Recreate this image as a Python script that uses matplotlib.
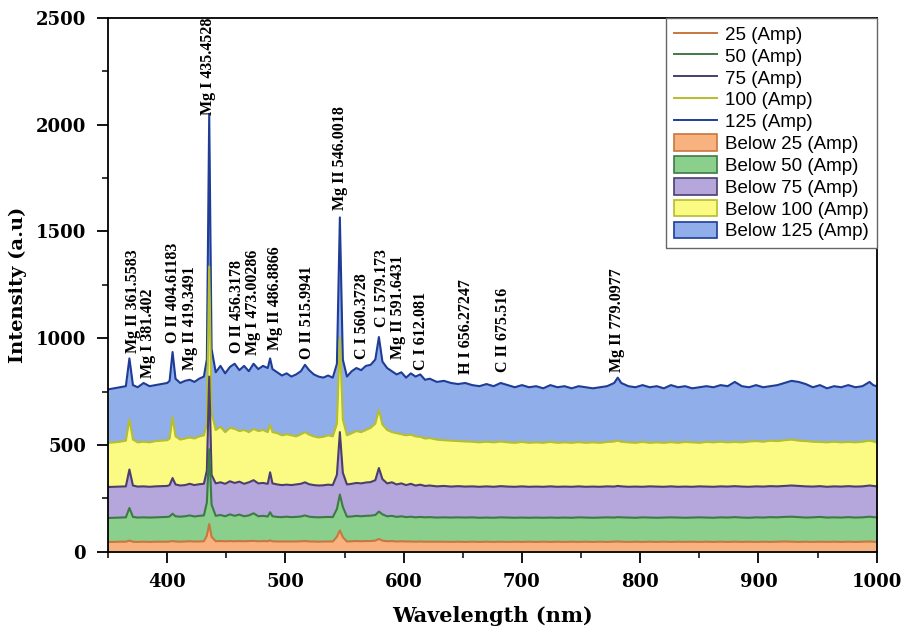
import matplotlib
matplotlib.use("Agg")
import matplotlib.pyplot as plt
from matplotlib.lines import Line2D
from matplotlib.patches import Patch
from matplotlib.ticker import MultipleLocator

# ---------------- data ----------------
wavelength = [
    350, 355, 360, 365, 368, 371, 375, 380, 385, 390,
    395, 400, 402, 404.5, 407, 411, 415, 419, 423, 427,
    431, 433.5, 435.5, 437.5, 441, 445, 449, 453, 457, 461,
    465, 469, 473, 477, 481, 485, 487, 489, 493, 497,
    501, 505, 509, 513, 516.5, 520, 524, 528, 532, 536,
    540, 543.5, 546, 548.5, 552, 556, 560, 564, 568, 572,
    576, 579, 582, 586, 590, 594, 598, 602, 606, 610,
    614, 618, 622, 628, 634, 640, 646, 652, 658, 664,
    670, 676, 682, 688, 694, 700, 706, 712, 718, 724,
    730, 736, 742, 748, 754, 760, 766, 772, 778, 781,
    784, 790, 796, 802, 808, 814, 820, 826, 832, 838,
    844, 850, 856, 862, 868, 874, 880, 886, 892, 898,
    904, 910, 916, 922, 928, 934, 940, 946, 952, 958,
    964, 970, 976, 982, 988, 994, 997, 1000,
]

amp125 = [
    760, 765, 770, 775, 905, 780, 770, 790, 775, 780,
    785, 790, 800, 935, 810, 790, 800, 805, 795, 810,
    820, 900, 2050, 950, 840, 870, 835, 865, 880, 850,
    870, 845, 880, 855, 870, 860, 905, 855, 840, 825,
    835, 820, 830, 845, 875, 850, 830, 820, 815, 825,
    815, 880, 1565, 900, 820, 845, 860, 850, 870, 875,
    900, 1005, 890, 860, 845, 830, 840, 815, 835, 820,
    830, 805, 810, 795, 800, 790, 785, 790, 780, 775,
    785, 775, 790, 780, 770, 780, 770, 775, 765, 780,
    770, 775, 765, 775, 770, 765, 770, 775, 790, 815,
    790, 775, 770, 780, 770, 775, 765, 780, 770, 775,
    765, 770, 775, 770, 780, 775, 795, 775, 770, 780,
    770, 775, 780, 790, 800, 795, 785, 770, 780, 765,
    775, 770, 780, 770, 775, 795, 780, 775,
]

amp100 = [
    510, 512, 515, 520, 620, 525, 512, 515, 512, 518,
    520, 522, 530, 630, 540, 525, 530, 535, 530, 540,
    545, 600, 1335, 650, 570, 585, 560, 580, 575, 565,
    570, 560, 575, 565, 570, 560, 595, 560, 555, 545,
    550, 545, 540, 550, 560, 548, 540, 535, 538, 545,
    540, 600, 1000, 620, 545, 555, 565, 560, 570, 580,
    600, 665, 595, 570, 560, 555, 550, 545, 548, 540,
    538, 530, 532, 525, 522, 520, 518, 516, 515, 512,
    515, 512, 516, 512, 510, 514, 510, 512, 510, 514,
    510, 512, 510, 513, 510, 512, 510, 514, 516, 520,
    515, 512, 510, 514, 510, 512, 510, 513, 510, 514,
    512, 510, 514, 512, 515, 512, 514, 512, 516, 518,
    515, 520, 518, 522, 525, 520, 518, 515, 514, 512,
    515, 512, 514, 512, 515, 520, 516, 512,
]

amp75 = [
    303, 304, 305, 306, 385, 310, 305, 306, 304, 306,
    307, 308, 312, 345, 315, 310, 312, 318, 312, 316,
    318, 380, 820, 360, 320, 325, 318, 330, 322, 328,
    318, 325, 335, 320, 322, 318, 372, 320, 315, 312,
    314, 312, 315, 318, 325, 316, 312, 310, 311, 314,
    312, 360, 560, 370, 315, 318, 322, 320, 324, 326,
    335, 392, 340, 320, 325, 315, 320, 312, 318, 310,
    314, 308, 310, 306, 308, 305, 307, 305, 306, 304,
    306, 304, 307, 305, 304, 306, 304, 305, 304, 306,
    304, 305, 304, 306, 304, 305, 304, 306, 305, 308,
    306, 304, 305, 304, 306, 305, 304, 306, 304, 305,
    304, 306, 305, 304, 306, 305, 307, 305, 304, 306,
    305, 307, 306, 308, 310, 308, 306, 305, 307, 304,
    306, 305, 307, 305, 306, 310, 308, 306,
]

amp50 = [
    158, 159, 160, 161, 205, 163, 160, 161, 160, 161,
    162, 163, 165, 178, 166, 164, 166, 170, 165, 168,
    170, 230, 480, 220, 168, 172, 166, 175, 168, 174,
    166, 170, 180, 166, 168, 165, 185, 166, 163, 162,
    164, 162, 163, 165, 170, 164, 162, 161, 162, 163,
    162, 200, 268, 210, 164, 165, 168, 166, 168, 169,
    172, 188, 175, 166, 168, 163, 166, 162, 164, 161,
    163, 161, 162, 160, 161, 160, 161, 160, 161, 159,
    160, 159, 161, 160, 159, 160, 159, 160, 159, 160,
    159, 160, 159, 161, 160, 159, 160, 161, 160, 162,
    161, 160, 159, 161, 160, 159, 160, 161, 160, 159,
    160, 161, 160, 159, 161, 160, 162, 160, 159, 161,
    160, 162, 161, 163, 164, 162, 160, 161, 163, 160,
    161, 160, 162, 160, 161, 164, 162, 161,
]

amp25 = [
    46, 46, 47, 47, 52, 47, 46, 47, 46, 47,
    47, 47, 48, 50, 48, 47, 48, 49, 48, 48,
    49, 75, 130, 70, 49, 50, 49, 50, 49, 50,
    49, 50, 51, 49, 50, 49, 53, 49, 48, 48,
    48, 48, 48, 49, 50, 48, 48, 47, 48, 48,
    48, 70, 100, 68, 48, 49, 50, 49, 50, 50,
    52, 60, 52, 49, 50, 48, 49, 48, 48, 47,
    48, 47, 47, 47, 47, 46, 47, 46, 47, 46,
    47, 46, 47, 46, 47, 46, 47, 46, 47, 46,
    47, 46, 47, 46, 47, 46, 47, 46, 47, 48,
    47, 46, 47, 46, 47, 46, 47, 46, 47, 46,
    47, 46, 47, 46, 47, 46, 47, 46, 47, 46,
    47, 46, 47, 48, 47, 46, 47, 46, 47, 46,
    47, 46, 47, 46, 47, 48, 47, 46,
]

currents = ["25", "50", "75", "100", "125"]

peak_labels = [
    "Mg II 361.5583", "Mg I 381.402", "O II 404.61183", "Mg II 419.3491",
    "Mg I 435.4528", "O II 456.3178", "Mg I 473.00286", "Mg II 486.8866",
    "O II 515.9941", "Mg II 546.0018", "C I 560.3728", "C I 579.173",
    "Mg II 591.6431", "C I 612.081", "H I 656.27247", "C II 675.516",
    "Mg II 779.0977",
]
peak_label_x = [371, 384, 405, 419, 434.5, 459, 472.5, 491, 518, 546,
                565, 581.5, 595, 615, 653, 684, 780]
peak_label_y = [930, 815, 975, 850, 2045, 930, 920, 945, 900, 1600,
                900, 1050, 900, 850, 830, 840, 840]

# ---------------- styles ----------------
line_colors = ["#C8773E", "#3D7A45", "#4A3F6E", "#B5BE2C", "#1F3C96"]
fill_colors = ["#F7B280", "#8AD08C", "#B5A6DC", "#FBFB84", "#8FAEEA"]

fig = plt.figure(figsize=(9.01, 6.32), dpi=100)
ax = fig.add_axes([0.120, 0.127, 0.853, 0.845])

series = [amp25, amp50, amp75, amp100, amp125]
# draw from the highest (back) to the lowest (front)
for i in range(4, -1, -1):
    z = 2 + (4 - i) * 2
    ax.fill_between(wavelength, 0, series[i], color=fill_colors[i],
                    linewidth=0, zorder=z)
    ax.plot(wavelength, series[i], color=line_colors[i], lw=1.5, zorder=z + 1)

for txt, x, y in zip(peak_labels, peak_label_x, peak_label_y):
    ax.text(x, y, txt, rotation=90, ha="center", va="bottom",
            fontsize=11.5, fontweight="bold", family="Liberation Serif",
            zorder=20, clip_on=False)

ax.set_xlim(350, 1000)
ax.set_ylim(0, 2500)
ax.xaxis.set_major_locator(MultipleLocator(100))
ax.xaxis.set_minor_locator(MultipleLocator(50))
ax.yaxis.set_major_locator(MultipleLocator(500))
ax.yaxis.set_minor_locator(MultipleLocator(250))
ax.tick_params(which="major", direction="out", length=8, width=1.3,
               top=False, right=False)
ax.tick_params(which="minor", direction="out", length=4, width=1.1,
               top=False, right=False)
for lab in ax.get_xticklabels() + ax.get_yticklabels():
    lab.set_family("DejaVu Serif")
    lab.set_fontweight("bold")
    lab.set_fontsize(13)
ax.tick_params(axis="x", pad=7)
ax.tick_params(axis="y", pad=8)
for sp in ax.spines.values():
    sp.set_linewidth(1.3)
    sp.set_zorder(30)

ax.set_xlabel("Wavelength (nm)", family="DejaVu Serif", fontweight="bold",
              fontsize=15, labelpad=11)
ax.set_ylabel("Intensity (a.u)", family="DejaVu Serif", fontweight="bold",
              fontsize=14, labelpad=6)

handles = []
for i in range(5):
    handles.append(Line2D([], [], color=line_colors[i], lw=1.4,
                          label=f"{currents[i]} (Amp)"))
for i in range(5):
    handles.append(Patch(facecolor=fill_colors[i], edgecolor=line_colors[i],
                         lw=1.2, label=f"Below {currents[i]} (Amp)"))
leg = ax.legend(handles=handles, loc="upper right", borderaxespad=0.0,
                prop={"family": "Liberation Sans", "size": 13.5},
                frameon=True, fancybox=False, edgecolor="#666666",
                framealpha=1, labelspacing=0.16, handlelength=2.3,
                handleheight=1.0, handletextpad=0.45, borderpad=0.4)
leg.get_frame().set_linewidth(1.0)
leg.set_zorder(40)

fig.savefig("out.png", dpi=100)
